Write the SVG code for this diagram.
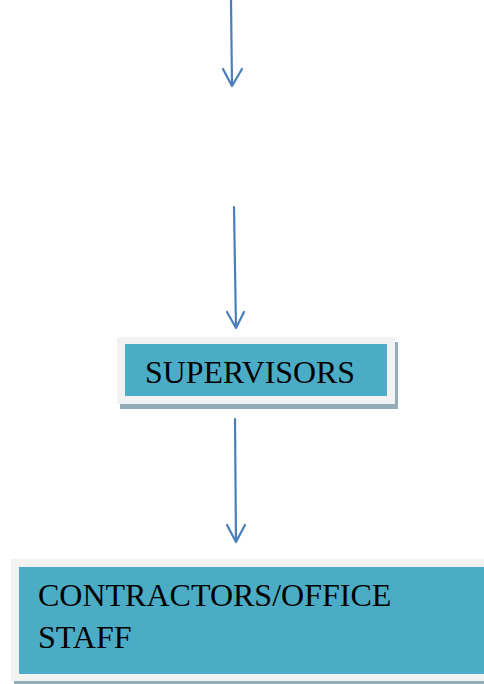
<svg xmlns="http://www.w3.org/2000/svg" width="484" height="684" viewBox="0 0 484 684">
<style>
.shadow{fill:#93adb8}
.outer{fill:#f2f2f2}
.inner{fill:#4bacc6}
.lbl{font-family:"Liberation Serif","Times New Roman",serif;fill:#000}
.conn{stroke:#4a7ebb;stroke-width:2.2;fill:none;stroke-linecap:round;stroke-linejoin:round}
</style>
<rect width="484" height="684" fill="#fff"/>
<g id="connectors">
<path class="conn" d="M231 0 L232 86 M223 69 L232 86 L242 69"/>
<path class="conn" d="M234 207 L236 328 M227 312 L236 328 L244 312"/>
<path class="conn" d="M235 419 L236 542 M227 525 L236 542 L245 525"/>
</g>
<g id="supervisors">
<rect class="shadow" x="120" y="342" width="278" height="67"/>
<rect class="outer" x="117" y="337" width="278" height="67"/>
<rect class="inner" x="125" y="344" width="262" height="52"/>
<text class="lbl" x="145" y="383" font-size="32" textLength="210" lengthAdjust="spacingAndGlyphs">SUPERVISORS</text>
</g>
<g id="contractors">
<rect class="shadow" x="14" y="564" width="480" height="120"/>
<rect class="outer" x="11" y="559" width="480" height="122"/>
<rect class="inner" x="19" y="567" width="470" height="107"/>
<text class="lbl" x="38" y="606" font-size="32">CONTRACTORS/OFFICE</text>
<text class="lbl" x="38" y="648" font-size="32">STAFF</text>
</g>
</svg>
